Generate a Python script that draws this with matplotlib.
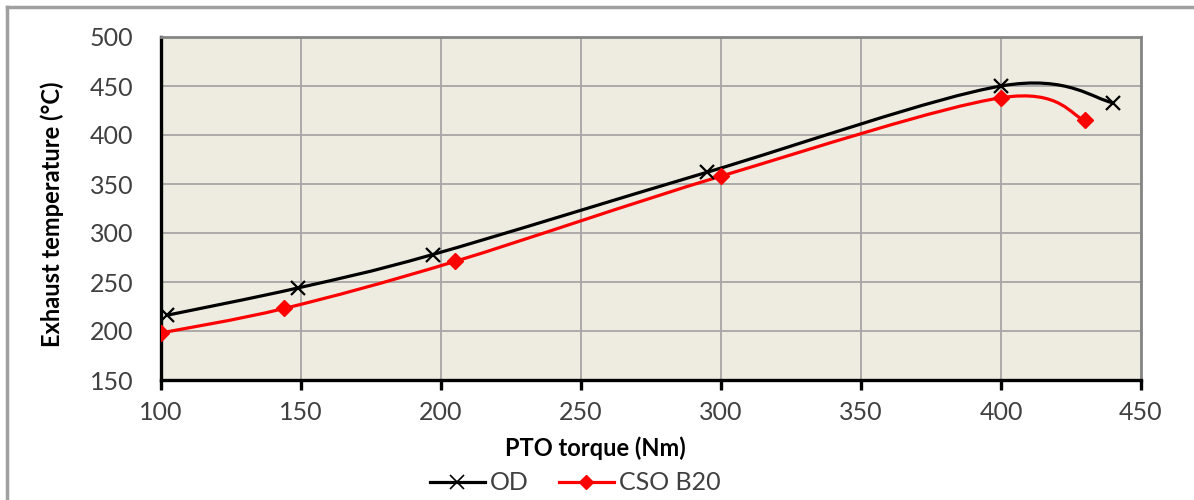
import matplotlib
matplotlib.use("Agg")
import matplotlib.pyplot as plt
from matplotlib.path import Path
from matplotlib.patches import PathPatch
from matplotlib.lines import Line2D
import numpy as np

# Measured series
od_torque = [102, 149, 197, 295, 400, 440]
od_temp = [216, 244, 278, 362, 450, 433]
cso_torque = [100, 144, 205, 300, 400, 430]
cso_temp = [198, 223, 271, 358, 438, 415]

x_ticks = [100, 150, 200, 250, 300, 350, 400, 450]
y_ticks = [150, 200, 250, 300, 350, 400, 450, 500]

plt.rcParams['font.family'] = ['Lato', 'DejaVu Sans']


def smooth_path(xs, ys):
    """Cubic Bezier path through the points (spreadsheet-style smoothing)."""
    p = np.column_stack([xs, ys]).astype(float)
    n = len(p)
    verts = [p[0]]
    codes = [Path.MOVETO]
    for i in range(n - 1):
        prev = p[i - 1] if i > 0 else p[i]
        nxt = p[i + 2] if i + 2 < n else p[i + 1]
        c1 = p[i] + (p[i + 1] - prev) / 6.0
        c2 = p[i + 1] - (nxt - p[i]) / 6.0
        verts += [c1, c2, p[i + 1]]
        codes += [Path.CURVE4] * 3
    return Path(verts, codes)


fig = plt.figure(figsize=(11.94, 5.0), dpi=100)
ax = fig.add_axes([161 / 1194, 1 - 380 / 500, 980 / 1194, 343 / 500])
ax.set_facecolor('#EEECE1')

ax.add_patch(PathPatch(smooth_path(od_torque, od_temp), facecolor='none',
                       edgecolor='black', lw=2.3, zorder=3, capstyle='round'))
ax.add_patch(PathPatch(smooth_path(cso_torque, cso_temp), facecolor='none',
                       edgecolor='#FF0000', lw=2.3, zorder=3, capstyle='round'))
ax.plot(od_torque, od_temp, ls='none', marker='x', ms=10, mew=1.6,
        color='black', zorder=4)
ax.plot(cso_torque, cso_temp, ls='none', marker='D', ms=8,
        color='#FF0000', zorder=4)

ax.set_xlim(100, 450)
ax.set_ylim(150, 500)
ax.set_xticks(x_ticks)
ax.set_yticks(y_ticks)
ax.grid(True, color='#A6A6A6', lw=1.3)
ax.set_axisbelow(True)

for side in ('left', 'bottom'):
    ax.spines[side].set_color('black')
    ax.spines[side].set_linewidth(2.4)
for side in ('top', 'right'):
    ax.spines[side].set_color('#858585')
    ax.spines[side].set_linewidth(2.0)

ax.tick_params(axis='x', direction='out', length=7, width=2.4, color='black',
               labelsize=18, labelcolor='#404040', pad=8)
ax.tick_params(axis='y', length=0, labelsize=18, labelcolor='#404040', pad=20)

ax.set_xlabel('PTO torque (Nm)', fontsize=17, fontweight='bold')
ax.xaxis.set_label_coords((595 - 161) / 980, -0.165)
ax.set_ylabel('Exhaust temperature (\u00b0C)', fontsize=17, fontweight='bold')
ax.yaxis.set_label_coords((64 - 161) / 980, 0.484)

handles = [
    Line2D([], [], color='black', lw=2.3, marker='x', ms=10, mew=1.2),
    Line2D([], [], color='#FF0000', lw=2.3, marker='D', ms=7),
]
fig.legend(handles, ['OD', 'CSO B20'], loc='center', ncol=2,
           bbox_to_anchor=(575 / 1194, 1 - 483 / 500), frameon=False,
           fontsize=18, handlelength=2.2, handletextpad=0.2,
           columnspacing=1.2, labelcolor='#404040')

# Outer chart frame
fig.add_artist(Line2D([7 / 1194, 1], [1 - 7 / 500, 1 - 7 / 500],
                      transform=fig.transFigure, color='#A0A0A0', lw=2.5))
fig.add_artist(Line2D([7 / 1194, 7 / 1194], [0, 1 - 7 / 500],
                      transform=fig.transFigure, color='#A0A0A0', lw=2.5))

fig.savefig('out.png', dpi=100, facecolor='white')
